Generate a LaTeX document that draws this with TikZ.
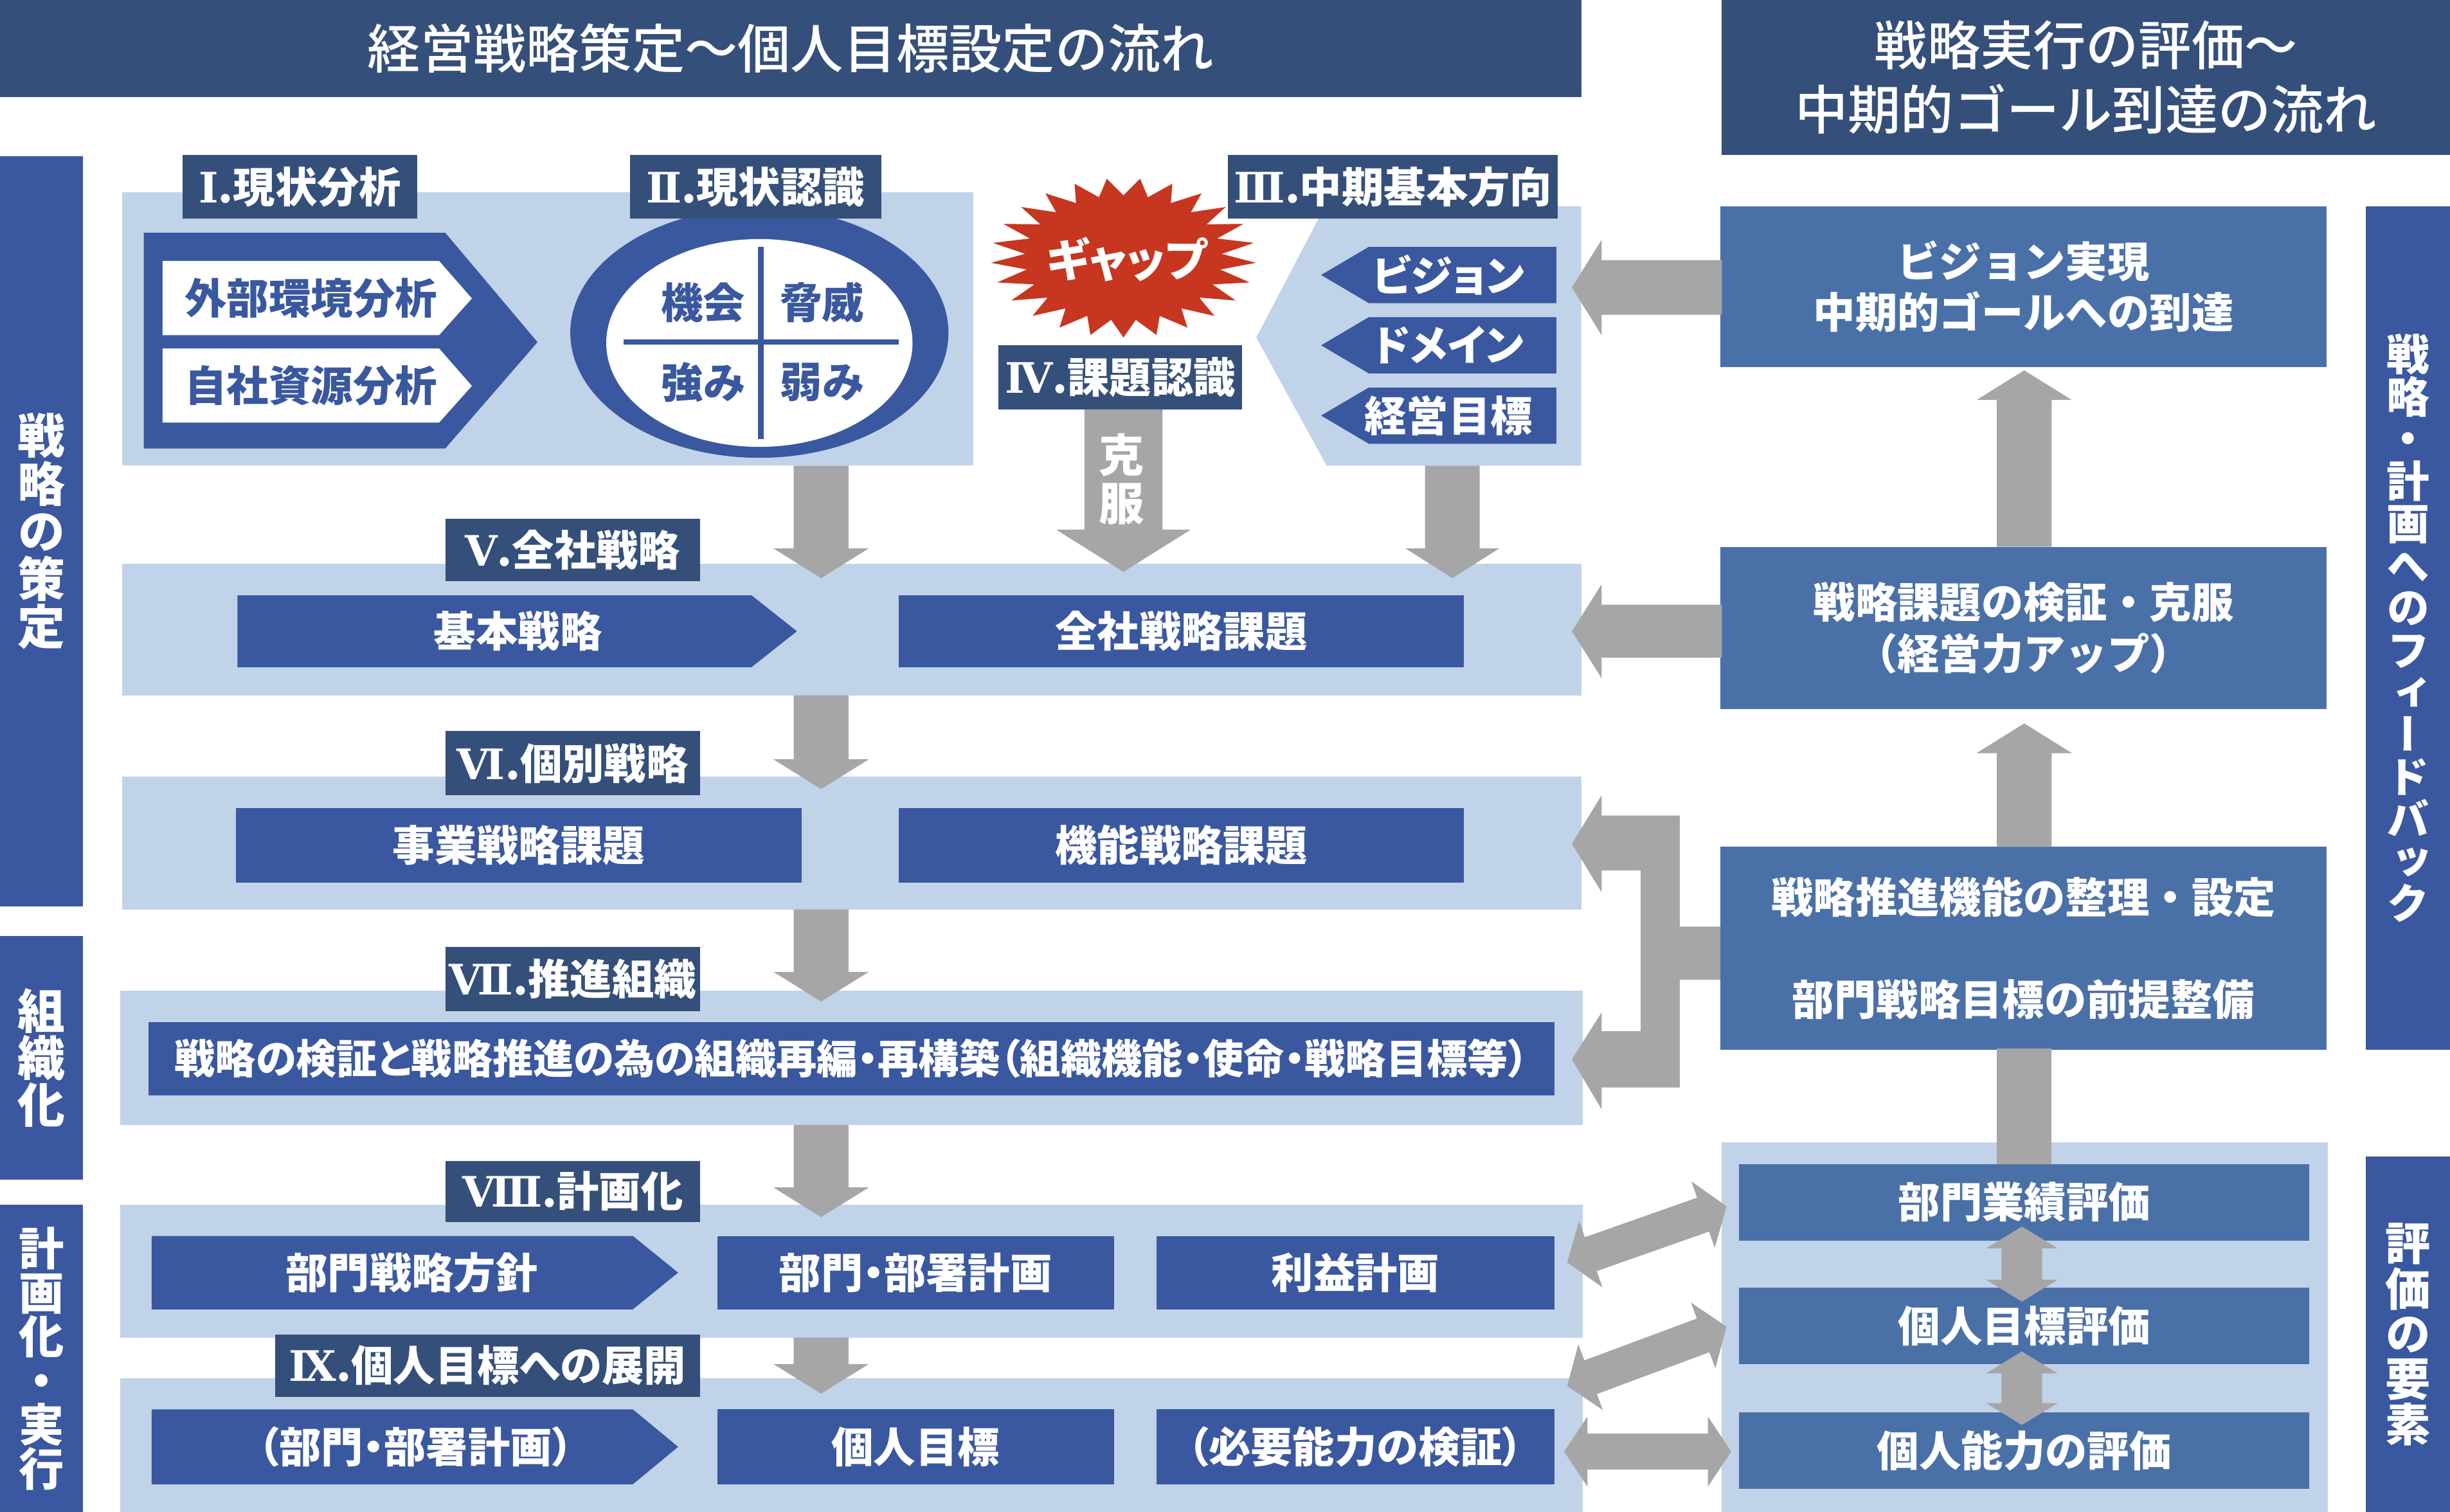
\documentclass[tikz,border=0pt]{standalone}
\usepackage{fontspec}
\usepackage{graphicx}
\setmainfont{Noto Sans CJK JP}[RawFeature={+palt}]
\newfontfamily\vfont{Noto Sans CJK JP}[RawFeature={+vert}]
\newfontfamily\fwfont{Noto Sans CJK JP}
\newfontfamily\romfont{DejaVu Serif}
\IfFontExistsTF{Noto Sans CJK JP Medium}{\newfontfamily\medfont{Noto Sans CJK JP Medium}}{\newcommand\medfont{\fwfont\bfseries}}
\definecolor{navy}{HTML}{344F7A}
\definecolor{mblue}{HTML}{3A58A0}
\definecolor{rblue}{HTML}{4A70A8}
\definecolor{lpanel}{HTML}{C1D3E8}
\definecolor{garrow}{HTML}{A6A6A6}
\definecolor{gapred}{HTML}{C73620}
\newcommand\fsz[2]{\fontsize{#1}{#2}\selectfont}
\newcommand\rn[1]{{\romfont\bfseries #1}}
\def\dpx{0.24305mm}
% box node from corner coordinates
\newcommand\bxn[7]{\node[#1, minimum width={(#5-#3)*\dpx}, minimum height={(#6-#4)*\dpx}] (#2) at ({(#3+#5)/2},{(#4+#6)/2}) {#7};}
% vertical block arrow: xc, ystart, yheadbase, ytip, shaft half, head half
\newcommand\darrow[6]{\fill[garrow] ({#1-#5},#2) -- ({#1+#5},#2) -- ({#1+#5},#3) -- ({#1+#6},#3) -- (#1,#4) -- ({#1-#6},#3) -- ({#1-#5},#3) -- cycle;}
% left block arrow: yc, xstart, xheadbase, xtip, shaft half, head half
\newcommand\larrow[6]{\fill[garrow] (#2,{#1-#5}) -- (#2,{#1+#5}) -- (#3,{#1+#5}) -- (#3,{#1+#6}) -- (#4,#1) -- (#3,{#1-#6}) -- (#3,{#1-#5}) -- cycle;}
% double block arrow: x, y, angle, length, head length, head half, shaft half
\newcommand\dblarrow[7]{\begin{scope}[shift={(#1,#2)}, rotate=#3]
\fill[garrow] (0,0) -- (#5,-#6) -- (#5,-#7) -- ({#4-#5},-#7) -- ({#4-#5},-#6) -- (#4,0) -- ({#4-#5},#6) -- ({#4-#5},#7) -- (#5,#7) -- (#5,#6) -- cycle;
\end{scope}}
\begin{document}
\begin{tikzpicture}[x=0.24305mm, y=-0.24305mm,
  hdr/.style={fill=navy, text=white, inner sep=0pt, outer sep=0pt, font=\medfont\fsz{23.4}{28.3}},
  vbar/.style={fill=mblue, text=white, inner sep=0pt, outer sep=0pt, align=center},
  panel/.style={fill=lpanel, inner sep=0pt, outer sep=0pt},
  lbl/.style={fill=navy, text=white, inner sep=0pt, outer sep=0pt, font=\bfseries\fsz{18.6}{22}},
  cbox/.style={fill=mblue, text=white, inner sep=0pt, outer sep=0pt, font=\bfseries\fsz{18.6}{22}},
  rbox/.style={fill=rblue, text=white, inner sep=0pt, outer sep=0pt, align=center, font=\fwfont\bfseries\fsz{18.6}{22.4}},
  txt/.style={inner sep=0pt, outer sep=0pt, font=\bfseries\fsz{18.6}{22}},
]
\useasboundingbox (0,0) rectangle (1568,967.7);

% ---------- headers ----------
\bxn{hdr}{hdrL}{0}{0}{1012}{62}{経営戦略策定～個人目標設定の流れ}
\bxn{hdr, align=center}{hdrR}{1102}{0}{1568}{99}{戦略実行の評価～\\中期的ゴール到達の流れ}

% ---------- side bars ----------
\bxn{vbar, font=\vfont\bfseries\fsz{21}{21.1}}{barA}{0}{100}{53}{580}{戦\\略\\の\\策\\定}
\bxn{vbar, font=\vfont\bfseries\fsz{21}{20.7}}{barB}{0}{599}{53}{755}{組\\織\\化}
\bxn{vbar, font=\vfont\bfseries\fsz{20}{19.5}}{barC}{0}{771}{53}{968}{計\\画\\化\\・\\実\\行}
\bxn{vbar, font=\vfont\bfseries\fsz{19}{18.7}}{barD}{1514}{132}{1568}{672}{戦\\略\\・\\計\\画\\へ\\の\\フ\\ィ\\ー\\ド\\バ\\ッ\\ク}
\bxn{vbar, font=\vfont\bfseries\fsz{20}{20}}{barE}{1514}{740}{1568}{968}{評\\価\\の\\要\\素}

% ---------- panels ----------
\bxn{panel}{P1}{78}{123}{623}{298}{}
\fill[lpanel] (848,132) -- (1012,132) -- (1012,298) -- (849,298) -- (804,216) -- cycle;
\bxn{panel}{P5}{78}{361}{1012}{445}{}
\bxn{panel}{P6}{78}{497}{1012}{582}{}
\bxn{panel}{P7}{77}{634}{1013}{720}{}
\bxn{panel}{P8}{77}{771}{1013}{856}{}
\bxn{panel}{P9}{77}{882}{1013}{968}{}
\bxn{panel}{PE}{1102}{731}{1490}{968}{}

% ---------- I. analysis ----------
\fill[mblue] (92,149) -- (285,149) -- (344,219) -- (285,287) -- (92,287) -- cycle;
\fill[white] (104,167) -- (281,167) -- (302,191) -- (281,214.5) -- (104,214.5) -- cycle;
\fill[white] (104,223) -- (281,223) -- (302,247) -- (281,270.5) -- (104,270.5) -- cycle;
\node[txt, text=mblue] (gaibu) at (199,191) {外部環境分析};
\node[txt, text=mblue] (jisha) at (199,247) {自社資源分析};

% ---------- II. SWOT ellipse ----------
\fill[mblue] (486,213) ellipse [x radius=121, y radius=80];
\fill[white] (486,219.5) ellipse [x radius=98, y radius=66.5];
\draw[mblue, line width=0.85mm] (487,158) -- (487,281);
\draw[mblue, line width=0.8mm] (399,219) -- (575,219);
\node[txt, text=mblue] (kikai) at (450,193.5) {機会};
\node[txt, text=mblue] (kyoui) at (526,193.5) {脅威};
\node[txt, text=mblue] (tsuyomi) at (450,244.5) {強み};
\node[txt, text=mblue] (yowami) at (526,244.5) {弱み};

% ---------- gap star ----------
\fill[gapred] ({719+85*cos(90)},{165+51*sin(90)})
  \foreach \k in {0,...,24} { -- ({719+85*cos(90+14.4*\k)},{165+51*sin(90+14.4*\k)}) -- ({719+63*cos(97.2+14.4*\k)},{165+40*sin(97.2+14.4*\k)}) } -- cycle;
\node[txt, text=white, font=\bfseries\fsz{20}{22}] (gap) at (721,166) {ギャップ};

% ---------- III. chevrons ----------
\fill[mblue] (845.5,176) -- (876,158) -- (996,158) -- (996,194) -- (876,194) -- cycle;
\fill[mblue] (845.5,221) -- (876,203) -- (996,203) -- (996,239) -- (876,239) -- cycle;
\fill[mblue] (845.5,266) -- (876,248) -- (996,248) -- (996,284) -- (876,284) -- cycle;
\node[txt, text=white] (vision) at (927,176) {ビジョン};
\node[txt, text=white] (domain) at (927,221) {ドメイン};
\node[txt, text=white] (keiei) at (927,266) {経営目標};

% ---------- labels ----------
\bxn{lbl}{L1}{117}{99}{267}{140}{\rn{Ⅰ}.現状分析}
\bxn{lbl}{L2}{403}{99}{564}{140}{\rn{Ⅱ}.現状認識}
\bxn{lbl}{L3}{786}{99}{997}{140}{\rn{Ⅲ}.中期基本方向}
\bxn{lbl}{L4}{639}{221}{795}{262}{\rn{Ⅳ}.課題認識}
\bxn{lbl}{L5}{285}{332}{448}{372}{\rn{Ⅴ}.全社戦略}
\bxn{lbl}{L6}{285}{468}{448}{509}{\rn{Ⅵ}.個別戦略}
\bxn{lbl}{L7}{285}{606}{448}{647}{\rn{Ⅶ}.推進組織}
\bxn{lbl}{L8}{285}{743}{448}{782}{\rn{Ⅷ}.計画化}
\bxn{lbl}{L9}{176}{854}{448}{894}{\rn{Ⅸ}.個人目標への展開}

% ---------- down arrows (left flow) ----------
\darrow{525.5}{298}{351}{370}{17.5}{30.5}
\darrow{929.5}{298}{351}{370}{17.5}{30}
\darrow{719}{262}{339}{366}{25}{43}
\node[inner sep=0pt, text=white, align=center, font=\bfseries\fsz{20}{21.4}] (kokufuku) at (718,306.5) {克\\服};
\darrow{525.5}{445}{486}{505}{17.5}{30.5}
\darrow{525.5}{582}{622}{641}{17.5}{30.5}
\darrow{525.5}{720}{760}{779}{17.5}{30.5}
\darrow{525.5}{856}{873}{892}{17.5}{30.5}

% ---------- V ----------
\fill[mblue] (152,381) -- (481,381) -- (510,404) -- (481,427) -- (152,427) -- cycle;
\node[txt, text=white] (kihon) at (331.5,404) {基本戦略};
\bxn{cbox}{zensha}{575}{381}{937}{427}{全社戦略課題}

% ---------- VI ----------
\bxn{cbox}{jigyo}{151}{517}{513}{565}{事業戦略課題}
\bxn{cbox}{kino}{575}{517}{937}{565}{機能戦略課題}

% ---------- VII ----------
\bxn{cbox, font=\bfseries\fsz{18}{22}}{soshiki}{95}{654}{995}{701}{戦略の検証と戦略推進の為の組織再編・再構築（組織機能・使命・戦略目標等）}

% ---------- VIII ----------
\fill[mblue] (97,791) -- (405,791) -- (434,814.5) -- (405,838) -- (97,838) -- cycle;
\node[txt, text=white] (bumonsen) at (263.5,814.5) {部門戦略方針};
\bxn{cbox}{bumonkei}{459}{791}{713}{838}{部門・部署計画}
\bxn{cbox}{rieki}{740}{791}{995}{838}{利益計画}

% ---------- IX ----------
\fill[mblue] (97,902) -- (405,902) -- (434,926) -- (405,950) -- (97,950) -- cycle;
\node[txt, text=white] (bumonkei2) at (266,926) {（部門・部署計画）};
\bxn{cbox}{kojin}{459}{902}{713}{950}{個人目標}
\bxn{cbox}{hitsuyo}{740}{902}{995}{950}{（必要能力の検証）}

% ---------- right column ----------
\bxn{rbox, font=\fwfont\bfseries\fsz{18.6}{22.4}}{RB1}{1101}{132}{1489}{235}{ビジョン実現\\中期的ゴールへの到達}
\bxn{rbox, font=\fwfont\bfseries\fsz{18.6}{22.7}}{RB2}{1101}{350}{1489}{454}{戦略課題の検証・克服\\（経営力アップ）}
\bxn{rbox, font=\fwfont\bfseries\fsz{18.6}{45.2}}{RB3}{1101}{542}{1489}{672}{戦略推進機能の整理・設定\\部門戦略目標の前提整備}

% up arrows and connector
\darrow{1295.5}{350}{256}{237}{17.5}{30.5}
\darrow{1295.5}{542}{482}{463}{17.5}{30.5}
\fill[garrow] (1278,671) rectangle (1313,746);

% evaluation boxes
\bxn{rbox}{E1}{1113}{745}{1478}{794}{部門業績評価}
\bxn{rbox}{E2}{1113}{824}{1478}{873}{個人目標評価}
\bxn{rbox}{E3}{1113}{904}{1478}{953}{個人能力の評価}
\dblarrow{1294}{785}{-90}{48}{14}{23}{13}
\dblarrow{1294}{865}{-90}{47}{14}{23}{13}

% feedback arrows to the left
\larrow{184}{1102}{1025}{1006}{17.5}{30.5}
\larrow{404}{1102}{1025}{1006}{17}{30}
\fill[garrow] (1025,522) -- (1075,522) -- (1075,593) -- (1101,593) -- (1101,627) -- (1075,627)
  -- (1075,696) -- (1025,696) -- (1025,710) -- (1006,678) -- (1025,648) -- (1025,660)
  -- (1050,660) -- (1050,557) -- (1025,557) -- (1025,571) -- (1006,540) -- (1025,509) -- cycle;

% evaluation <-> plan arrows
\dblarrow{1003}{808}{19.4}{108.2}{16}{22.5}{11.5}
\dblarrow{1003}{887}{20.4}{108.8}{16}{22.5}{11.5}
\dblarrow{1001}{929}{0}{107}{15}{22.5}{11.5}
\end{tikzpicture}
\end{document}
